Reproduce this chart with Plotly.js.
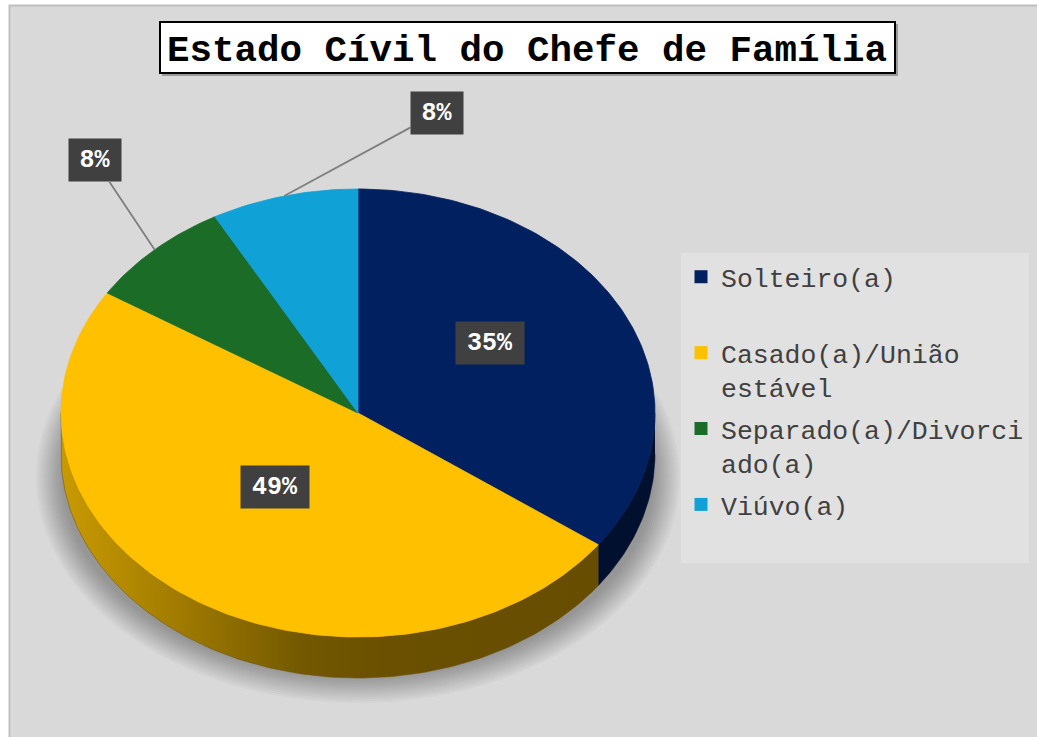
<!DOCTYPE html>
<html><head><meta charset="utf-8">
<script src="https://cdn.plot.ly/plotly-3.0.1.min.js"></script>
<style>html,body{margin:0;padding:0;background:#fff;} #chart{width:1037px;height:737px;}</style>
</head><body><div id="chart"></div>
<script>
// ---- data ----
const categories = ['Solteiro(a)', 'Casado(a)/União estável', 'Separado(a)/Divorciado(a)', 'Viúvo(a)'];
const legendText = ['Solteiro(a)<br>&nbsp;', 'Casado(a)/União<br>estável', 'Separado(a)/Divorci<br>ado(a)', 'Viúvo(a)<br>&nbsp;'];
const values = [35, 49, 8, 8];
const chartTitle = 'Estado Cívil do Chefe de Família';

// ---- styles ----
const topColors = ['#002060', '#ffc000', '#1b6c27', '#10a1d7'];
const sideColors = ['#00102e', '#6a5000', '#0f3e16', '#0a5e80'];
const W = 1037, H = 737, CX = 358, CY = 413, RX = 297, RY = 224, DEPTH = 41;
const D = DEPTH / RY;

const total = values.reduce((a, b) => a + b, 0);
let cum = 0;
const slices = values.map(v => { const a0 = cum / total * 360; cum += v; return { a0, a1: cum / total * 360 }; });

function pt(theta, sx, sy, dy) { const t = theta * Math.PI / 180; return [sx * Math.sin(t), sy * Math.cos(t) - dy]; }
function arc(a0, a1, sx, sy, dy) {
  const n = Math.max(2, Math.ceil(Math.abs(a1 - a0)));
  const out = [];
  for (let i = 0; i <= n; i++) out.push(pt(a0 + (a1 - a0) * i / n, sx, sy, dy));
  return out;
}
const traces = [];
// soft shadow under the pie
const shadowLayers = 14;
for (let k = 0; k < shadowLayers; k++) {
  const sx = (322 - k * 2) / RX, sy = (226 - k * 2) / RY;
  const p = arc(0, 360, sx, sy, 64 / RY);
  traces.push({ type: 'scatter', mode: 'none', fill: 'toself', fillcolor: 'rgba(0,0,0,0.022)',
    x: p.map(q => q[0]), y: p.map(q => q[1]), showlegend: false, hoverinfo: 'skip' });
}
// side walls (front half only)
slices.forEach((s, i) => {
  const s0 = Math.max(s.a0, 90), s1 = Math.min(s.a1, 270);
  if (s0 >= s1) return;
  const p = arc(s0, s1, 1, 1, 0).concat(arc(s1, s0, 1, 1, D));
  const tr = { type: 'scatter', mode: 'lines', fill: 'toself', fillcolor: sideColors[i],
    line: { width: 0.5, color: sideColors[i] },
    x: p.map(q => q[0]), y: p.map(q => q[1]), showlegend: false, hoverinfo: 'skip' };
  if (i === 1) {
    tr.fillgradient = { type: 'horizontal', colorscale: [[0, '#c99a00'], [0.2, '#a47e00'], [0.45, '#735800'], [0.6, '#6a5000'], [1, '#664d00']] };
  }
  traces.push(tr);
});
// top faces
slices.forEach((s, i) => {
  const p = [[0, 0]].concat(arc(s.a0, s.a1, 1, 1, 0)).concat([[0, 0]]);
  traces.push({ type: 'scatter', mode: 'lines', fill: 'toself', fillcolor: topColors[i],
    line: { width: 0.8, color: topColors[i] }, name: categories[i],
    x: p.map(q => q[0]), y: p.map(q => q[1]), showlegend: false, hoverinfo: 'skip' });
});
// legend entries
categories.forEach((c, i) => {
  traces.push({ type: 'scatter', mode: 'markers', x: [null], y: [null], name: legendText[i],
    legendgroup: 'g' + i, marker: { symbol: 'square', size: 13, color: topColors[i] }, showlegend: true, hoverinfo: 'skip' });
});

// labels
const annotations = [];
const labelStyle = { bgcolor: '#404040', font: { family: 'Liberation Mono', size: 25, color: '#ffffff' }, borderpad: 5 };
slices.forEach((s, i) => {
  const mid = (s.a0 + s.a1) / 2;
  const pct = Math.round(values[i] / total * 100) + '%';
  const txt = '<b>' + pct + '</b>';
  if (values[i] / total > 0.15) {
    const p = pt(mid, 0.5, 0.5, 0);
    annotations.push(Object.assign({ x: p[0], y: p[1], xref: 'x', yref: 'y', text: txt, showarrow: false,
      yshift: 19, width: 58, height: 32 }, labelStyle));
  } else {
    const p = pt(mid, 1, 1, 0);
    const off = i === 2 ? [-60, -90] : [153, -83];
    annotations.push(Object.assign({ x: p[0], y: p[1], xref: 'x', yref: 'y', text: txt, showarrow: true,
      arrowhead: 0, arrowwidth: 1.8, arrowcolor: '#7f7f7f', ax: off[0], ay: off[1], standoff: 0,
      width: 42, height: 32 }, labelStyle));
  }
});

const layout = {
  width: W, height: H, autosize: false,
  margin: { l: 0, r: 0, t: 0, b: 0, pad: 0 },
  paper_bgcolor: '#ffffff', plot_bgcolor: 'rgba(0,0,0,0)',
  title: { text: '<b>' + chartTitle + '</b>', font: { family: 'Liberation Mono', size: 37.5, color: '#000000' },
    x: 527 / W, xanchor: 'center', y: 1 - 48 / H, yanchor: 'middle', xref: 'paper', yref: 'paper' },
  xaxis: { range: [-CX / RX, (W - CX) / RX], visible: false, fixedrange: true },
  yaxis: { range: [(CY - H) / RY, CY / RY], visible: false, fixedrange: true },
  showlegend: true,
  legend: { x: 681 / W, y: 1 - 253 / H, xanchor: 'left', yanchor: 'top', bgcolor: '#e1e1e1',
    font: { family: 'Liberation Mono', size: 26.5, color: '#404040' }, valign: 'top',
    traceorder: 'grouped', tracegroupgap: 4 },
  hovermode: false,
  shapes: [
    { type: 'rect', xref: 'paper', yref: 'paper', x0: 9.5 / W, x1: 1.01, y0: -0.01, y1: 1 - 5.5 / H,
      fillcolor: '#d9d9d9', line: { color: '#bfbfbf', width: 2 }, layer: 'below' },
    { type: 'rect', xref: 'paper', yref: 'paper', x0: 162 / W, x1: 898 / W, y0: 1 - 76 / H, y1: 1 - 24 / H,
      fillcolor: '#9a9a9a', line: { width: 0 }, layer: 'above' },
    { type: 'rect', xref: 'paper', yref: 'paper', x0: 160 / W, x1: 895 / W, y0: 1 - 73 / H, y1: 1 - 22 / H,
      fillcolor: '#ffffff', line: { color: '#000000', width: 2 }, layer: 'above' }
  ],
  annotations: annotations
};
Plotly.newPlot('chart', traces, layout, { displayModeBar: false, staticPlot: true });
</script>
</body></html>
